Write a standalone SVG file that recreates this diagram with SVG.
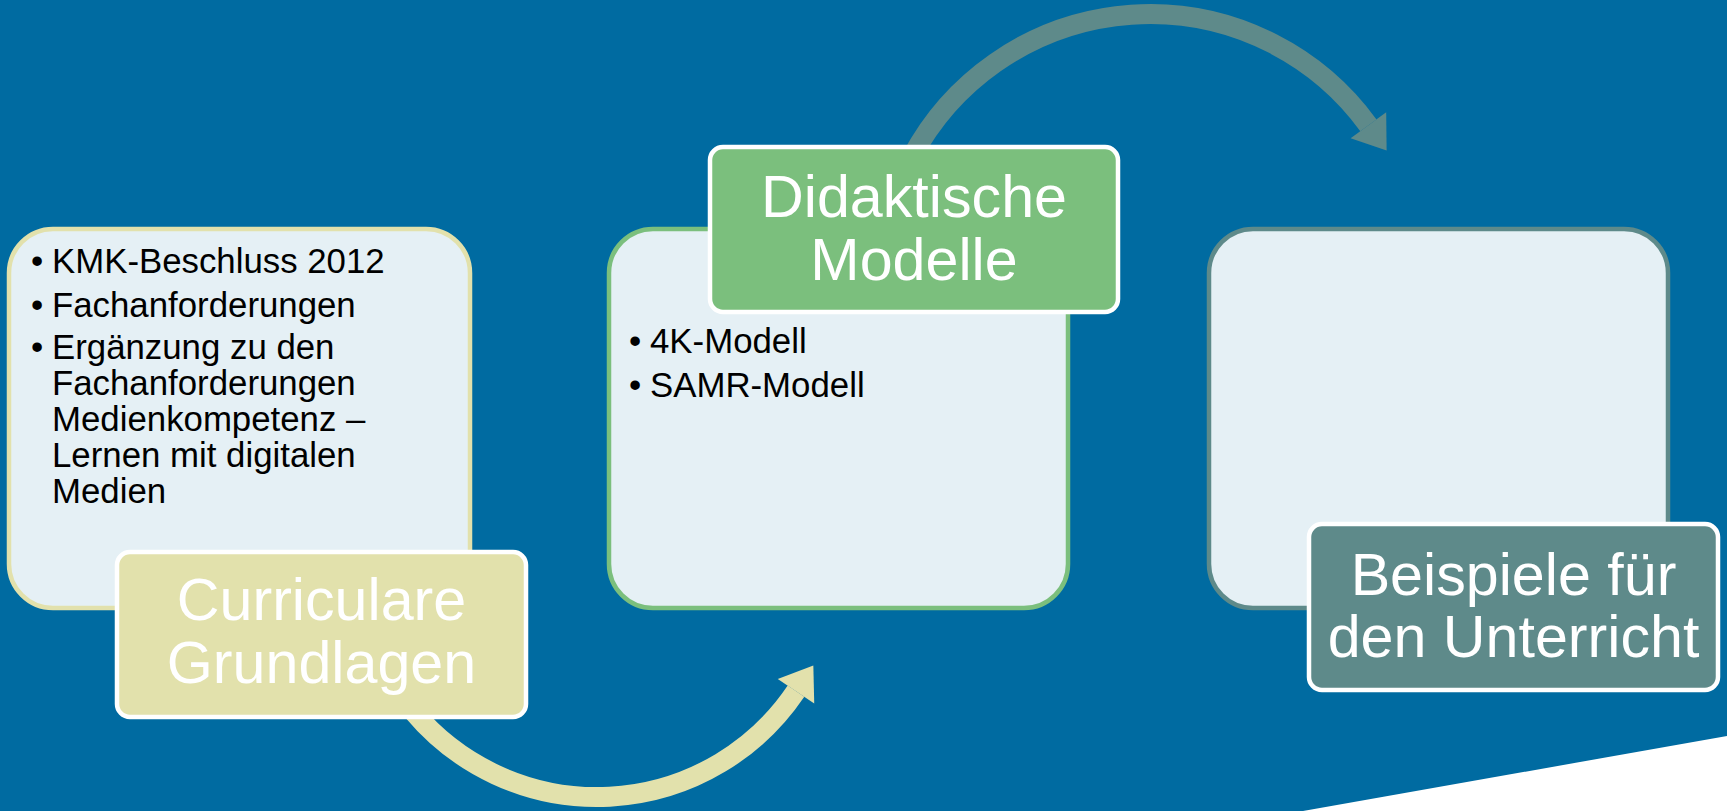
<svg xmlns="http://www.w3.org/2000/svg" width="1727" height="811" viewBox="0 0 1727 811">
  <style>
    .box { fill: #e5f0f5; stroke-width: 4.5; }
    .lbl { stroke: #ffffff; stroke-width: 4.5; }
    .body { font-family: "Liberation Sans", Arial, sans-serif; font-size: 34.8px; fill: #000000; }
    .title { font-family: "Liberation Sans", Arial, sans-serif; font-size: 59.2px; fill: #ffffff; text-anchor: middle; }
    .arc { fill: none; stroke-width: 20; }
  </style>
  <defs>
    <marker id="headY" markerUnits="userSpaceOnUse" markerWidth="40" markerHeight="50" viewBox="0 -25 40 50" refX="0" refY="0" orient="auto" overflow="visible">
      <path d="M0,-22 L31,0 L0,22 Z" fill="#e2e1ac"/>
    </marker>
    <marker id="headT" markerUnits="userSpaceOnUse" markerWidth="40" markerHeight="50" viewBox="0 -25 40 50" refX="0" refY="0" orient="auto" overflow="visible">
      <path d="M0,-22 L31,0 L0,22 Z" fill="#5e8a8a"/>
    </marker>
  </defs>
  <rect x="0" y="0" width="1727" height="811" fill="#006ba1"/>
  <polygon points="1303,811 1727,736 1727,811" fill="#ffffff"/>

  <g id="connectors">
    <path class="arc" d="M413.1,711.3 A240,240 0 0 0 796,691.2" stroke="#e2e1ac" marker-end="url(#headY)"/>
    <path class="arc" d="M911.6,157.3 A270,270 0 0 1 1368.4,125.3" stroke="#5e8a8a" marker-end="url(#headT)"/>
  </g>

  <g id="node-curriculare">
    <rect class="box" x="9" y="229" width="461" height="379" rx="44" stroke="#e2e1ac"/>
    <text class="body" x="31" y="273">•</text>
    <text class="body" x="52" y="273">KMK-Beschluss 2012</text>
    <text class="body" x="31" y="316.5">•</text>
    <text class="body" x="52" y="316.5">Fachanforderungen</text>
    <text class="body" x="31" y="358.5">•</text>
    <text class="body" x="52" y="358.5">Ergänzung zu den</text>
    <text class="body" x="52" y="394.5">Fachanforderungen</text>
    <text class="body" x="52" y="430.5">Medienkompetenz –</text>
    <text class="body" x="52" y="466.5">Lernen mit digitalen</text>
    <text class="body" x="52" y="502.5">Medien</text>
    <rect class="lbl" x="117" y="552" width="409" height="165" rx="13" fill="#e2e1ac"/>
    <text class="title" x="321.5" y="620">Curriculare</text>
    <text class="title" x="321.5" y="683">Grundlagen</text>
  </g>

  <g id="node-didaktische">
    <rect class="box" x="609" y="229" width="459" height="379" rx="44" stroke="#7bbf7d"/>
    <text class="body" x="629" y="353">•</text>
    <text class="body" x="650" y="353">4K-Modell</text>
    <text class="body" x="629" y="397">•</text>
    <text class="body" x="650" y="397">SAMR-Modell</text>
    <rect class="lbl" x="710" y="147" width="408" height="165" rx="13" fill="#7bbf7d"/>
    <text class="title" x="914" y="217">Didaktische</text>
    <text class="title" x="914" y="280">Modelle</text>
  </g>

  <g id="node-beispiele">
    <rect class="box" x="1209" y="229" width="459" height="379" rx="44" stroke="#5e8a8a"/>
    <rect class="lbl" x="1309" y="524" width="409" height="166" rx="13" fill="#5e8a8a"/>
    <text class="title" x="1513.5" y="595">Beispiele für</text>
    <text class="title" x="1513.5" y="657">den Unterricht</text>
  </g>
</svg>
